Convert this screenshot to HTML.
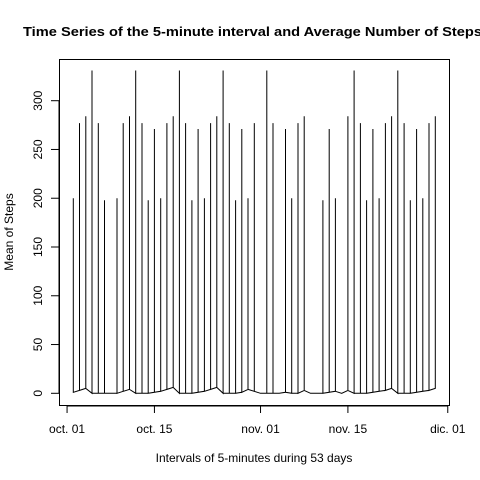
<!DOCTYPE html>
<html><head><meta charset="utf-8"><style>
html,body{margin:0;padding:0;background:#fff;}
svg{display:block;font-family:"Liberation Sans",Arial,sans-serif;}
</style></head><body>
<svg id="chart" width="480" height="480" viewBox="0 0 480 480" xmlns="http://www.w3.org/2000/svg">
<rect x="0" y="0" width="480" height="480" fill="#fff"/>
<text x="23" y="36" font-size="13" font-weight="bold" textLength="459" lengthAdjust="spacingAndGlyphs">Time Series of the 5-minute interval and Average Number of Steps</text>
<rect x="59.5" y="59.5" width="390" height="346" fill="none" stroke="#000" stroke-width="1"/>
<g id="yaxis"></g>
<g id="xaxis"></g>
<g id="series"></g>
<text x="254" y="462" font-size="12" text-anchor="middle">Intervals of 5-minutes during 53 days</text>
<text transform="translate(13,232) rotate(-90)" font-size="12" text-anchor="middle">Mean of Steps</text>
</svg>
<script>
// Data (days since Oct 1)
const days = [1,2,3,4,5,6,8,9,10,11,12,13,14,15,16,17,18,19,20,21,22,23,24,25,26,27,28,29,30,32,33,35,36,37,38,41,42,43,45,46,47,48,49,50,51,52,53,54,55,56,57,58,59];
const peaks = [200,277,284,331,277,198,200,277,284,331,277,198,271,200,277,284,331,277,198,271,200,277,284,331,277,198,271,200,277,331,277,271,200,277,284,198,271,200,284,331,277,198,271,200,277,284,331,277,198,271,200,277,284];
const lows = [1,3,5,0,0,0,0,2,4,0,0,0,1,2,4,6,0,0,0,1,2,4,6,0,0,0,1,4,2,0,0,1,0,0,3,0,1,2,3,0,0,0,1,2,3,5,0,0,0,1,2,3,5];
const yTicks = [0,50,100,150,200,250,300];
const xTickDays = [0,14,31,45,61];
const xTickLabels = ["oct. 01","oct. 15","nov. 01","nov. 15","dic. 01"];

const NS = "http://www.w3.org/2000/svg";
const xs = d => 67.06 + d * 6.241;
const ys = v => 393.3 - v * (292.6 / 300);
function mk(tag, attrs, parent){ const e=document.createElementNS(NS,tag); for(const k in attrs) e.setAttribute(k,attrs[k]); parent.appendChild(e); return e; }

const ya = document.getElementById('yaxis');
mk('line',{x1:59,x2:59,y1:ys(0),y2:ys(300),stroke:'#000'},ya);
yTicks.forEach(t=>{
  const l = mk('line',{x1:51,x2:59,y1:ys(t),y2:ys(t),stroke:'#000'},ya);
  
  
  const tx = mk('text',{transform:`translate(42,${ys(t)}) rotate(-90)`,'font-size':12,'text-anchor':'middle'},ya);
  
  
  tx.textContent = t;
});

const xa = document.getElementById('xaxis');
mk('line',{x1:xs(xTickDays[0]),x2:xs(xTickDays[xTickDays.length-1]),y1:406,y2:406,stroke:'#000'},xa);
xTickDays.forEach((d,i)=>{
  const l = mk('line',{x1:xs(d),x2:xs(d),y1:406,y2:413,stroke:'#000'},xa);
  
  
  const tx = mk('text',{x:xs(d),y:433,'font-size':12,'text-anchor':'middle'},xa);
  
  
  tx.textContent = xTickLabels[i];
});

const sg = document.getElementById('series');
let pts = [];
for(let i=0;i<days.length;i++){
  const d = days[i];
  const x = xs(d);
  pts.push([x, ys(lows[i])]);
  pts.push([x, ys(peaks[i])]);
  pts.push([x, ys(lows[i])]);
  if(i<days.length-1){
    const nd = days[i+1];
    if(nd>d+1){
      pts.push([xs(d+1), ys(0)]);
      pts.push([xs(nd-1), ys(0)]);
    }
  }
}
const p = mk('polyline',{points:pts.map(q=>q[0].toFixed(1)+','+q[1].toFixed(1)).join(' '),fill:'none',stroke:'#000','stroke-width':1},sg);


</script>
</body></html>
